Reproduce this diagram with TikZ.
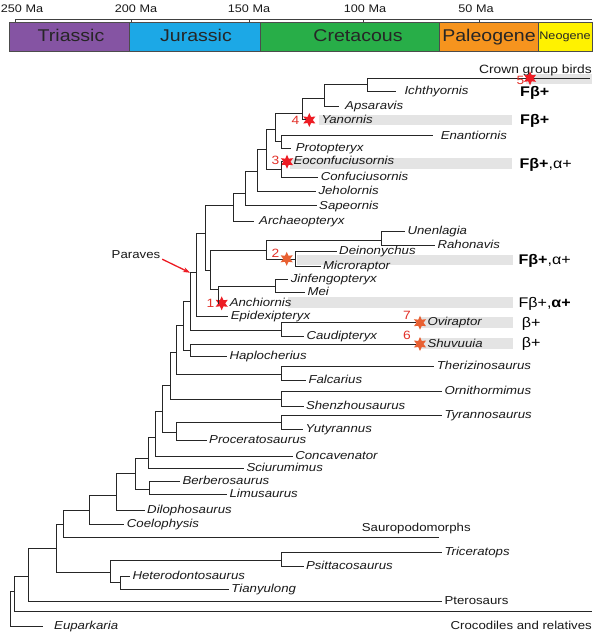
\documentclass[tikz,border=0pt]{standalone}
\usepackage{fontspec}
\setmainfont{Liberation Sans}[FakeStretch=1.15]
\usetikzlibrary{positioning,shapes.geometric,arrows.meta}
\definecolor{triassic}{RGB}{133,84,163}
\definecolor{jurassic}{RGB}{28,168,230}
\definecolor{cretaceous}{RGB}{40,174,72}
\definecolor{paleogene}{RGB}{246,148,30}
\definecolor{neogene}{RGB}{255,242,0}
\definecolor{starred}{RGB}{237,28,36}
\definecolor{starorange}{RGB}{232,96,50}
\definecolor{numred}{RGB}{226,48,40}
\definecolor{bandgray}{RGB}{228,228,228}

\begin{document}
\begin{tikzpicture}[x=1pt,y=-1pt,
    branch/.style = {draw=black!85, line width=1pt},
    taxon/.style = {anchor=west, inner sep=0pt, outer sep=2.5pt, text=black!90,
      font=\fontsize{11.5}{13}\selectfont\itshape, text height=6.5pt, text depth=0pt},
    grouptext/.style = {taxon, font=\fontsize{11.5}{13}\selectfont},
    caption/.style = {inner sep=0pt, text=black!90, font=\fontsize{11.5}{13}\selectfont},
    period/.style = {inner sep=0pt, text=black!85, font=\fontsize{17}{19}\selectfont,
      text height=12.2pt, text depth=0pt},
    agelabel/.style = {inner sep=0pt, text=black!90, font=\fontsize{11}{13}\selectfont,
      text height=7.9pt, text depth=0pt},
    trait/.style = {anchor=west, inner sep=0pt, text=black, font=\fontsize{14}{16}\selectfont,
      text height=10pt, text depth=0pt},
    redstar/.style = {star, star points=6, star point ratio=2, minimum size=14pt,
      inner sep=0pt, fill=starred},
    orastar/.style = {redstar, fill=starorange},
    starnum/.style = {inner sep=0pt, text=numred, font=\fontsize{12}{14}\selectfont},
    band/.style = {fill=bandgray}
  ]
  \useasboundingbox (0,0) rectangle (600,636);
  \fill[white] (0,0) rectangle (600,636);

  % time scale
  \draw[black!75, line width=0.6pt] (15,19.5) -- (592,19.5);
  \foreach \x/\lx/\t in {15/22/250, 131/136/200, 249/249/150, 363/365/100, 479.5/476/50} {
    \draw[black!75, line width=0.6pt] (\x,19.5) -- (\x,22.7);
    \node[agelabel] (age\t) at (\lx,8.8) {\t\ Ma};
  }
  \foreach \a/\b/\c in {9.6/129/triassic, 129/260/jurassic, 260/439/cretaceous,
                        439/538/paleogene, 538/592/neogene}
    \filldraw[fill=\c, draw=black!70, line width=0.6pt] (\a,22.7) rectangle (\b,51);
  \node[period] (tri) at (71,35.6) {Triassic};
  \node[period] (jur) at (196,35.6) {Jurassic};
  \node[period] (cre) at (358,35.6) {Cretacous};
  \node[period] (pal) at (489,35.6) {Paleogene};
  \node[period, font=\fontsize{11}{13}\selectfont, text height=7.9pt] (neo) at (565,35.8) {Neogene};

  % grey bands
  \foreach \a/\b/\y in {526/592/79, 319/512/120, 290/512/163.3, 297/513/260,
                        288/513/302.7, 420/513/322.7, 420/513/343.5}
    \fill[band] (\a,\y-5.3) rectangle (\b,\y+5.3);

  % taxa
  \node[taxon] (Ichthyornis) at (402,91.7) {Ichthyornis};
  \node[taxon] (Apsaravis) at (342.7,106.5) {Apsaravis};
  \node[taxon] (Yanornis) at (319,120) {Yanornis};
  \node[taxon] (Enantiornis) at (438.3,136) {Enantiornis};
  \node[taxon] (Protopteryx) at (293.3,148.5) {Protopteryx};
  \node[taxon] (Eoconfuciusornis) at (291,161.7) {Eoconfuciusornis};
  \node[taxon] (Confuciusornis) at (318.3,177.3) {Confuciusornis};
  \node[taxon] (Jeholornis) at (316,191.7) {Jeholornis};
  \node[taxon] (Sapeornis) at (316.7,206) {Sapeornis};
  \node[taxon] (Archaeopteryx) at (256.7,221) {Archaeopteryx};
  \node[taxon] (Unenlagia) at (405,231.7) {Unenlagia};
  \node[taxon] (Rahonavis) at (435,245) {Rahonavis};
  \node[taxon] (Deinonychus) at (336.7,251.7) {Deinonychus};
  \node[taxon] (Microraptor) at (320.7,266.7) {Microraptor};
  \node[taxon] (Jinfengopteryx) at (288.3,279.3) {Jinfengopteryx};
  \node[taxon] (Mei) at (305,292.7) {Mei};
  \node[taxon] (Anchiornis) at (227.3,303.3) {Anchiornis};
  \node[taxon] (Epidexipteryx) at (228.3,316) {Epidexipteryx};
  \node[taxon] (Oviraptor) at (425,322.7) {Oviraptor};
  \node[taxon] (Caudipteryx) at (304,336) {Caudipteryx};
  \node[taxon] (Shuvuuia) at (425,344) {Shuvuuia};
  \node[taxon] (Haplocherius) at (227,356) {Haplocherius};
  \node[taxon] (Therizinosaurus) at (434.4,366) {Therizinosaurus};
  \node[taxon] (Falcarius) at (306,380.7) {Falcarius};
  \node[taxon] (Ornithormimus) at (442,391.7) {Ornithormimus};
  \node[taxon] (Shenzhousaurus) at (303.5,406) {Shenzhousaurus};
  \node[taxon] (Tyrannosaurus) at (442,415.7) {Tyrannosaurus};
  \node[taxon] (Yutyrannus) at (303,429.3) {Yutyrannus};
  \node[taxon] (Proceratosaurus) at (206.7,440.5) {Proceratosaurus};
  \node[taxon] (Concavenator) at (292.8,456) {Concavenator};
  \node[taxon] (Sciurumimus) at (244,468.3) {Sciurumimus};
  \node[taxon] (Berberosaurus) at (180,481.7) {Berberosaurus};
  \node[taxon] (Limusaurus) at (227,494) {Limusaurus};
  \node[taxon] (Dilophosaurus) at (144.7,510.5) {Dilophosaurus};
  \node[taxon] (Coelophysis) at (124.4,524.3) {Coelophysis};
  \node[taxon] (Triceratops) at (442,552.3) {Triceratops};
  \node[taxon] (Psittacosaurus) at (303.5,566.7) {Psittacosaurus};
  \node[taxon] (Heterodontosaurus) at (130,576) {Heterodontosaurus};
  \node[taxon] (Tianyulong) at (228.9,589.5) {Tianyulong};
  \node[grouptext] (Pterosaurs) at (442,601) {Pterosaurs};
  \node[taxon] (Euparkaria) at (51.7,626.7) {Euparkaria};
  \coordinate (crown) at (590,78.3);
  \node[caption, anchor=base east, font=\fontsize{12}{14}\selectfont] (crownlab) at (592,73.5) {Crown group birds};
  \coordinate (sauro) at (439,537.3);
  \node[caption, anchor=base west] (saurolab) at (361.7,531.7) {Sauropodomorphs};
  \coordinate (croc) at (592,611.5);
  \node[caption, anchor=base east] (croclab) at (592,629.5) {Crocodiles and relatives};

  % stars at branch ends
  \node[redstar] (s4) at (309.3,120) {};
  \node[redstar] (s3) at (287,161.7) {};
  \node[redstar] (s1) at (221.7,303.3) {};
  \node[orastar] (s7) at (420,322.7) {};
  \node[orastar] (s6) at (420,344) {};

  % clades
  \coordinate (root) at (10,609);
  \coordinate (archo) at (14,591.7);
  \coordinate (orndira) at (28.5,576);
  \coordinate (dino) at (56.7,548);
  \coordinate (saurisch) at (63,524);
  \coordinate (thero) at (89.3,510);
  \coordinate (neothero) at (116.7,495);
  \coordinate (averostra) at (135,473.3);
  \coordinate (cerato) at (149,489);
  \coordinate (tetan) at (148.3,458.3);
  \coordinate (orion) at (155.3,437);
  \coordinate (coelur) at (162.7,411.7);
  \coordinate (tyrgrp) at (176,432.7);
  \coordinate (tyrcrown) at (281.3,422.7);
  \coordinate (mani3) at (170,385);
  \coordinate (ornmim) at (281.3,399.3);
  \coordinate (mani2) at (176.7,352);
  \coordinate (theriz) at (281.3,374);
  \coordinate (mani) at (183,325);
  \coordinate (alvar) at (190,350);
  \coordinate (pennar) at (190,301.5);
  \coordinate (ovirap) at (281.7,330);
  \coordinate (parav) at (196.7,272.7);
  \coordinate (eumani) at (205,233.3);
  \coordinate (deinon) at (210,270);
  \coordinate (dromae) at (266.7,250.7);
  \coordinate (unenl) at (381.7,240.7);
  \coordinate (micrin) at (295,259.3);
  \coordinate (troodon) at (218.3,289);
  \coordinate (jinmei) at (275,286.7);
  \coordinate (avial) at (233.3,206);
  \coordinate (sapgrp) at (245,193.3);
  \coordinate (pygo) at (257.3,171.7);
  \coordinate (ornithoth) at (266.7,149.3);
  \coordinate (ornthx) at (275,129.3);
  \coordinate (enantio) at (281.7,141.7);
  \coordinate (ornuro) at (302.3,113.3);
  \coordinate (ornur1) at (324,98.3);
  \coordinate (ornur2) at (367,85);
  \coordinate (confgrp) at (281.7,170);
  \coordinate (ornisch) at (110,572.7);
  \coordinate (ceratop) at (281.3,560.3);
  \coordinate (heterod) at (120,582);

  \foreach \p/\c in {root/archo, archo/orndira, archo/croc, orndira/dino, orndira/Pterosaurs,
      dino/saurisch, dino/ornisch, saurisch/thero, saurisch/sauro, thero/neothero,
      thero/Coelophysis, neothero/averostra, neothero/Dilophosaurus, averostra/tetan,
      averostra/cerato, cerato/Berberosaurus, cerato/Limusaurus, tetan/orion,
      tetan/Sciurumimus, orion/coelur, orion/Concavenator, coelur/mani3, coelur/tyrgrp,
      tyrgrp/tyrcrown, tyrgrp/Proceratosaurus, tyrcrown/Tyrannosaurus, tyrcrown/Yutyrannus,
      mani3/mani2, mani3/ornmim, ornmim/Ornithormimus, ornmim/Shenzhousaurus,
      mani2/mani, mani2/theriz, theriz/Therizinosaurus, theriz/Falcarius,
      mani/pennar, mani/alvar, alvar/s6, alvar/Haplocherius, pennar/parav, pennar/ovirap,
      ovirap/s7, ovirap/Caudipteryx, parav/eumani, parav/Epidexipteryx, eumani/avial,
      eumani/deinon, deinon/dromae, deinon/troodon, troodon/jinmei, troodon/s1,
      jinmei/Jinfengopteryx, jinmei/Mei, dromae/unenl, dromae/micrin, unenl/Unenlagia,
      unenl/Rahonavis, micrin/Deinonychus, micrin/Microraptor, avial/sapgrp,
      sapgrp/pygo, sapgrp/Sapeornis, pygo/ornithoth, pygo/Jeholornis,
      ornithoth/ornthx, ornithoth/confgrp, confgrp/s3, confgrp/Confuciusornis,
      ornthx/ornuro, ornthx/enantio, ornuro/ornur1, ornuro/s4, ornur1/ornur2,
      ornur2/crown, ornisch/ceratop, ornisch/heterod, ceratop/Triceratops,
      ceratop/Psittacosaurus, heterod/Heterodontosaurus, heterod/Tianyulong}
    \draw[branch] (\p) |- (\c);
  \draw[branch, shorten >=9pt] (root) |- (Euparkaria);
  \draw[branch, shorten >=2.5pt] (avial) |- (Archaeopteryx);
  \draw[branch, shorten >=5.5pt] (enantio) |- (Enantiornis);
  \draw[branch, shorten >=2.5pt] (enantio) |- (Protopteryx);
  \draw[branch, shorten >=3.5pt] (ornur1) |- (Apsaravis);
  \draw[branch, shorten >=6.5pt] (ornur2) |- (Ichthyornis);

  % stars on branches
  \node[orastar] (s2) at (286.7,258.8) {};
  \node[redstar] (s5) at (530,78.3) {};
  \node[starnum, left=3.4pt of s1] (n1) {1};
  \node[starnum, left=3.4pt of s2, yshift=5pt] (n2) {2};
  \node[starnum, left=3.7pt of s3, yshift=1.7pt] (n3) {3};
  \node[starnum, left=6pt of s4] (n4) {4};
  \node[starnum, left=1.7pt of s5, yshift=-2.4pt] (n5) {5};
  \node[starnum, left=5.2pt of s6, yshift=8.3pt] (n6) {6};
  \node[starnum, left=5.2pt of s7, yshift=7.7pt] (n7) {7};

  % colour codes
  \node[trait] (trIch) at (520,91.7) {\textbf{Fβ+}};
  \node[trait] (trYan) at (520,120) {\textbf{Fβ+}};
  \node[trait] (trEoc) at (519.3,163.3) {\textbf{Fβ+},α+};
  \node[trait] (trMic) at (518.3,259) {\textbf{Fβ+},α+};
  \node[trait] (trAnc) at (518.3,302) {Fβ+,\textbf{α+}};
  \node[trait] (trOvi) at (521.7,322.7) {β+};
  \node[trait] (trShu) at (521.7,342.7) {β+};

  % Paraves
  \node[caption, text height=8.3pt, text depth=0pt] (paraves) at (136,254) {Paraves};
  \draw[-{Stealth[length=7pt,width=5pt]}, starred, line width=1.3pt, shorten <=2pt]
    (paraves.south east) -- (pennar |- parav);
\end{tikzpicture}
\end{document}
